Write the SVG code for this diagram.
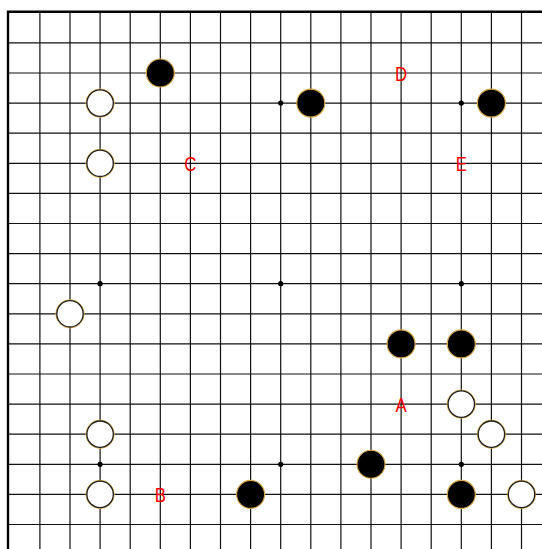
<svg xmlns="http://www.w3.org/2000/svg" width="542" height="549" viewBox="0 0 542 549">
<style>
.g{stroke:#111;stroke-width:1.2;fill:none}
.b{stroke:#000;stroke-width:2.4;fill:none}
.star{fill:#000}
.bk{fill:#000;stroke:#dcaa48;stroke-width:1.1}
.wr{fill:none;stroke:#e2b24c;stroke-width:1}
.wh{fill:#fff;stroke:#1e1e1e;stroke-width:1.3}
.lb{fill:#ff0000;font-family:"Liberation Sans",Arial,sans-serif;font-size:21px;text-anchor:middle}
</style>
<rect width="542" height="549" fill="#fff"/>
<g id="grid">
<path class="g" d="M39.9 12V549M70 12V549M100.1 12V549M130.2 12V549M160.3 12V549M190.4 12V549M220.5 12V549M250.6 12V549M280.7 12V549M310.8 12V549M340.9 12V549M371 12V549M401.1 12V549M431.2 12V549M461.3 12V549M491.4 12V549M521.5 12V549"/>
<path class="g" d="M8 42.9H542M8 73H542M8 103.1H542M8 133.2H542M8 163.3H542M8 193.4H542M8 223.5H542M8 253.6H542M8 283.7H542M8 313.8H542M8 343.9H542M8 374H542M8 404.1H542M8 434.2H542M8 464.3H542M8 494.4H542M8 524.5H542"/>
<path class="b" d="M8 549V11.8H542"/>
</g>
<g id="stars">
<circle class="star" cx="100.1" cy="103.1" r="2.6"/>
<circle class="star" cx="280.7" cy="103.1" r="2.6"/>
<circle class="star" cx="461.3" cy="103.1" r="2.6"/>
<circle class="star" cx="100.1" cy="283.7" r="2.6"/>
<circle class="star" cx="280.7" cy="283.7" r="2.6"/>
<circle class="star" cx="461.3" cy="283.7" r="2.6"/>
<circle class="star" cx="100.1" cy="464.3" r="2.6"/>
<circle class="star" cx="280.7" cy="464.3" r="2.6"/>
<circle class="star" cx="461.3" cy="464.3" r="2.6"/>
</g>
<g id="black-stones">
<circle class="bk" cx="160.3" cy="73" r="14"/>
<circle class="bk" cx="310.8" cy="103.1" r="14"/>
<circle class="bk" cx="491.4" cy="103.1" r="14"/>
<circle class="bk" cx="401.1" cy="343.9" r="14"/>
<circle class="bk" cx="461.3" cy="343.9" r="14"/>
<circle class="bk" cx="371" cy="464.3" r="14"/>
<circle class="bk" cx="250.6" cy="494.4" r="14"/>
<circle class="bk" cx="461.3" cy="494.4" r="14"/>
</g>
<g id="white-stones">
<g><circle class="wr" cx="100.1" cy="103.1" r="14.2"/><circle class="wh" cx="100.1" cy="103.1" r="13.2"/></g>
<g><circle class="wr" cx="100.1" cy="163.3" r="14.2"/><circle class="wh" cx="100.1" cy="163.3" r="13.2"/></g>
<g><circle class="wr" cx="70" cy="313.8" r="14.2"/><circle class="wh" cx="70" cy="313.8" r="13.2"/></g>
<g><circle class="wr" cx="461.3" cy="404.1" r="14.2"/><circle class="wh" cx="461.3" cy="404.1" r="13.2"/></g>
<g><circle class="wr" cx="100.1" cy="434.2" r="14.2"/><circle class="wh" cx="100.1" cy="434.2" r="13.2"/></g>
<g><circle class="wr" cx="491.4" cy="434.2" r="14.2"/><circle class="wh" cx="491.4" cy="434.2" r="13.2"/></g>
<g><circle class="wr" cx="100.1" cy="494.4" r="14.2"/><circle class="wh" cx="100.1" cy="494.4" r="13.2"/></g>
<g><circle class="wr" cx="521.5" cy="494.4" r="14.2"/><circle class="wh" cx="521.5" cy="494.4" r="13.2"/></g>
</g>
<g id="labels">
<text class="lb" transform="translate(401.1 80.6) scale(0.8 1)">D</text>
<text class="lb" transform="translate(190.4 170.9) scale(0.8 1)">C</text>
<text class="lb" transform="translate(461.3 170.9) scale(0.8 1)">E</text>
<text class="lb" transform="translate(401.1 411.7) scale(0.8 1)">A</text>
<text class="lb" transform="translate(160.3 502) scale(0.8 1)">B</text>
</g>
</svg>
